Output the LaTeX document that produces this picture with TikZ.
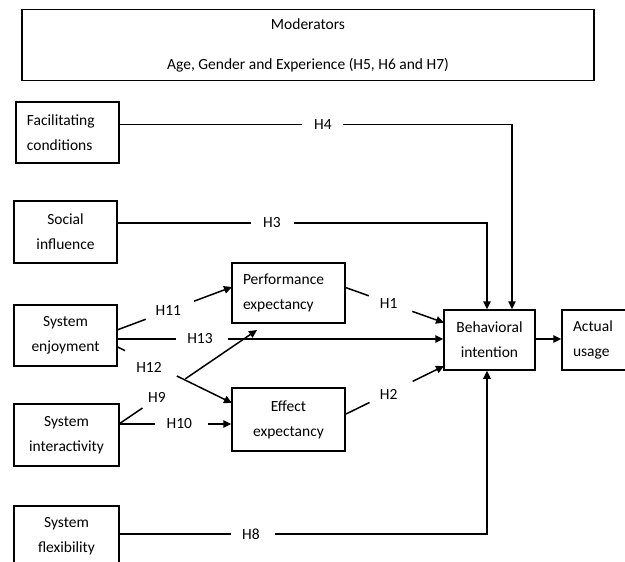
\documentclass[tikz,border=0pt]{standalone}
\usepackage{fontspec}
\setmainfont{Carlito}
\usetikzlibrary{arrows.meta,calc}
\begin{document}
\begin{tikzpicture}[x=1pt,y=-1pt,
  box/.style={draw=black, line width=1.5pt, inner sep=0pt, align=center,
    font=\fontsize{15.5}{25}\selectfont, text=black},
  lbox/.style={box, align=left, inner xsep=11pt},
  line/.style={draw=black, line width=1.5pt},
  arr/.style={line, -{Triangle[length=8pt,width=7.5pt]}},
  lab/.style={font=\fontsize{15.5}{18}\selectfont, text=black, inner sep=0pt}
]
\useasboundingbox (0,0) rectangle (625,562);

% boxes
\node[box, minimum width=572pt, minimum height=71.4pt] (MOD) at (308,45)
  {Moderators\\[15pt]Age, Gender and Experience (H5, H6 and H7)};
\node[lbox, text width=81pt, minimum width=103pt, minimum height=60.7pt] (FC) at (67.5,132.4)
  {Facilitating\\conditions};
\node[box, minimum width=103pt, minimum height=62pt] (SOC) at (65.5,232)
  {Social\\influence};
\node[box, minimum width=103pt, minimum height=61pt] (SE) at (65.5,335.5)
  {System\\enjoyment};
\node[box, minimum width=105pt, minimum height=62pt] (SI) at (66.5,435)
  {System\\interactivity};
\node[box, minimum width=105pt, minimum height=60pt] (SF) at (66.5,536)
  {System\\flexibility};
\node[lbox, text width=91pt, minimum width=113pt, minimum height=60pt] (PE) at (288.5,293)
  {Performance\\expectancy};
\node[box, minimum width=113pt, minimum height=63pt] (EE) at (288.5,419.5)
  {Effect\\expectancy};
\node[box, minimum width=91pt, minimum height=60pt] (BI) at (489.5,340)
  {Behavioral\\intention};
\node[lbox, text width=53pt, minimum width=75pt, minimum height=60pt] (AU) at (599.5,340)
  {Actual\\usage};

% helper coordinates
\coordinate (h4) at (512,124.7);
\coordinate (h3) at (487,223);
\coordinate (h8) at (487,534);
\coordinate (h13) at (0,339);
\coordinate (h10) at (0,424);
\coordinate (s11) at (117,330);
\coordinate (e11) at (232,287);
\coordinate (s1) at (345,287.3);
\coordinate (e1) at (444,322.7);
\coordinate (s2) at (346,414);
\coordinate (e2) at (444,366);
\coordinate (s12) at (117,346.7);
\coordinate (e12) at (232,403);
\coordinate (s9) at (119,424);
\coordinate (e9) at (257,330);

% orthogonal connectors with gaps
\draw[line] (FC.east |- h4) -- (302,124.7);
\draw[arr] (343,124.7) -| (BI.north -| h4);
\node[lab] (L4) at (323,124.7) {H4};

\draw[line] (SOC.east |- h3) -- (251,223);
\draw[arr] (294,223) -| (BI.north -| h3);
\node[lab] (L3) at (272,223) {H3};

\draw[line] (SF.east |- h8) -- (231,534);
\draw[arr] (275,534) -| (BI.south -| h8);
\node[lab] (L8) at (251,534) {H8};

\draw[line] (SE.east |- h13) -- (176,339);
\draw[arr] (228,339) -- (BI.west |- h13);
\node[lab] (L13) at (200,339) {H13};

\draw[line] (SI.east |- h10) -- (155,424);
\draw[arr] (208,424) -- (EE.west |- h10);
\node[lab] (L10) at (179.4,424) {H10};

\draw[arr] (BI.east |- h13) -- (AU.west |- h13);

% diagonal connectors with gaps
\draw[line] (s11) -- ($(s11)!0.25!(e11)$);
\draw[arr] ($(s11)!0.67!(e11)$) -- (e11);
\node[lab] (L11) at (168.3,310.7) {H11};

\draw[line] (s1) -- ($(s1)!0.24!(e1)$);
\draw[arr] ($(s1)!0.68!(e1)$) -- (e1);
\node[lab] (L1) at (388.6,303.3) {H1};

\draw[line] (s2) -- ($(s2)!0.24!(e2)$);
\draw[arr] ($(s2)!0.68!(e2)$) -- (e2);
\node[lab] (L2) at (388.6,394) {H2};

\draw[line] (s12) -- ($(s12)!0.07!(e12)$);
\draw[arr] ($(s12)!0.52!(e12)$) -- (e12);
\node[lab] (L12) at (149,367) {H12};

\draw[line] (s9) -- ($(s9)!0.17!(e9)$);
\draw[arr] ($(s9)!0.48!(e9)$) -- (e9);
\node[lab] (L9) at (157,397) {H9};
\end{tikzpicture}
\end{document}
